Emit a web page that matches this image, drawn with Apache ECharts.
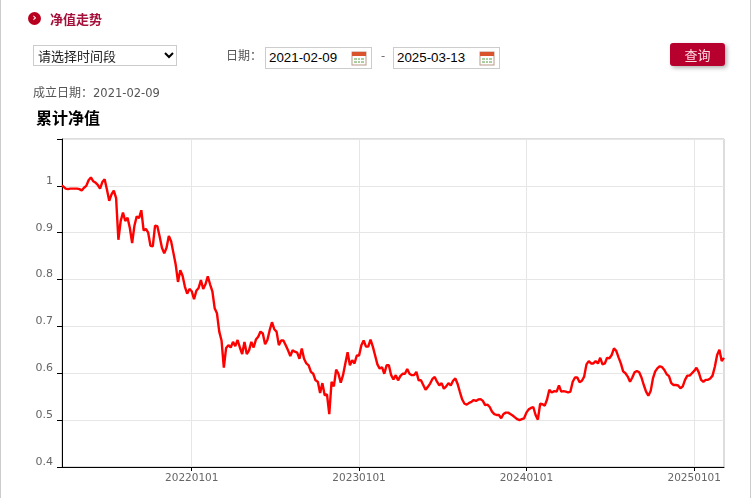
<!DOCTYPE html>
<html>
<head>
<meta charset="utf-8">
<title>净值走势</title>
<script src="https://cdn.jsdelivr.net/npm/echarts@6/dist/echarts.min.js"></script>
<style>
html, body { margin: 0; padding: 0; background: #fff; }
body { width: 753px; height: 498px; overflow: hidden; position: relative; font-family: "Noto Sans CJK SC", sans-serif; }
.frame { position: absolute; left: 0; top: 0; width: 749px; height: 498px; border-left: 1px solid #ccc; border-right: 1px solid #ccc; }
#nav_chart { position: absolute; left: 0; top: 0; width: 753px; height: 498px; }
.abs { position: absolute; white-space: nowrap; }
.head_icon { left: 28px; top: 12px; width: 13px; height: 13px; border-radius: 50%; background: #b8001e; color: #fff; font: bold 10px/12px "DejaVu Sans"; text-align: center; }
.head_text { left: 50px; top: 10px; font-size: 13px; line-height: 18px; font-weight: bold; color: #a5103a; }
.select_box { left: 33px; top: 45px; width: 142px; height: 19px; border: 1px solid #ccc; background: #fff; font-size: 13px; line-height: 19px; color: #222; text-indent: 4px; }
.select_box svg { position: absolute; left: 130px; top: 6px; }
.date_label { left: 226px; top: 46px; font-size: 12px; line-height: 17px; color: #555; }
.date_box { top: 47px; width: 105px; height: 20px; border: 1px solid #ccc; font: 13.33px/19px "Liberation Sans"; color: #000; text-indent: 3px; background: #fff; }
.date_box svg { position: absolute; left: 85px; top: 2px; }
.dash { left: 381px; top: 46px; font-size: 12px; line-height: 17px; color: #555; }
.query { left: 670px; top: 43px; width: 55px; height: 23px; background: #b8002e; border-radius: 3px; box-shadow: 2px 2px 4px rgba(0,0,0,.3); color: #fbdbe2; font-size: 13px; line-height: 23px; text-align: center; }
.found { left: 33px; top: 83px; font-size: 12px; line-height: 17px; color: #555; }
.found span { font: 11.5px/17px "DejaVu Sans"; }
</style>
</head>
<body>
<div class="frame"></div>
<div id="nav_chart"></div>
<div class="abs head_icon">›</div>
<div class="abs head_text">净值走势</div>
<div class="abs select_box">请选择时间段<svg width="10" height="7"><path d="M1 1l4 4 4-4" fill="none" stroke="#000" stroke-width="2"/></svg></div>
<div class="abs date_label">日期&#xff1a;</div>
<div class="abs date_box" style="left:265px">2021-02-09<svg width="16" height="16"><rect x="1" y="2" width="14" height="13" fill="#fff" stroke="#b98"/><rect x="1" y="2" width="14" height="4" fill="#d9532c"/><rect x="3" y="8" width="10" height="5" fill="#a9cfa0"/><path d="M3 10.5h10M6.5 8v5M9.5 8v5" stroke="#fff"/></svg></div>
<div class="abs dash">-</div>
<div class="abs date_box" style="left:393px">2025-03-13<svg width="16" height="16"><rect x="1" y="2" width="14" height="13" fill="#fff" stroke="#b98"/><rect x="1" y="2" width="14" height="4" fill="#d9532c"/><rect x="3" y="8" width="10" height="5" fill="#a9cfa0"/><path d="M3 10.5h10M6.5 8v5M9.5 8v5" stroke="#fff"/></svg></div>
<div class="abs query">查询</div>
<div class="abs found">成立日期&#xff1a;<span>2021-02-09</span></div>
<script>
// sampling days inside one year, the yearly nav lists below line up with these
const monthDays = [
  '01-01','01-06','01-11','01-16','01-21','01-26','01-31',
  '02-05','02-10','02-15','02-20','02-25',
  '03-02','03-07','03-12','03-17','03-22','03-27',
  '04-01','04-06','04-11','04-16','04-21','04-26',
  '05-01','05-06','05-11','05-16','05-21','05-26','05-31',
  '06-05','06-10','06-15','06-20','06-25','06-30',
  '07-05','07-10','07-15','07-20','07-25','07-30',
  '08-04','08-09','08-14','08-19','08-24','08-29',
  '09-03','09-08','09-13','09-18','09-23','09-28',
  '10-03','10-08','10-13','10-18','10-23','10-28',
  '11-02','11-07','11-12','11-17','11-22','11-27',
  '12-02','12-07','12-12','12-17','12-22','12-27'
];
const firstDate = '2021-03-24';
const firstNav = 1.001;
// 2021 starts at 03-27
const nav2021 = [
  .998,.994,.993,.994,.994,.994,.994,.993,.990,.996,1.000,1.012,1.018,1.010,1.007,1.002,.994,1.008,1.014,.992,
  .968,.982,.990,.974,.885,.925,.943,.925,.932,.910,.878,.915,.935,.931,.948,.905,.908,.900,.872,.871,
  .915,.914,.892,.868,.856,.868,.893,.882,.857,.832,.795,.820,.808,.785,.770,.780
];
const nav2022 = [
  .775,.758,.776,.782,.799,.780,.790,.807,.790,.775,.739,.728,.689,.670,.612,.654,.660,.655,.667,.658,
  .671,.655,.641,.667,.641,.649,.667,.655,.672,.678,.689,.685,.662,.671,.692,.709,.694,.689,.660,.670,
  .670,.660,.649,.637,.649,.646,.644,.631,.653,.631,.621,.617,.603,.599,.585,.582,.558,.579,.553,.555,
  .513,.582,.572,.608,.599,.580,.596,.621,.645,.617,.628,.621,.638
];
const nav2023 = [
  .638,.660,.670,.657,.657,.672,.657,.638,.619,.610,.613,.599,.617,.617,.596,.587,.596,.585,.594,.599,
  .599,.609,.599,.596,.596,.603,.585,.585,.575,.565,.571,.578,.588,.592,.582,.574,.579,.567,.572,.579,
  .574,.584,.589,.577,.560,.544,.535,.533,.537,.539,.543,.541,.544,.545,.541,.532,.533,.528,.518,.513,
  .511,.511,.504,.513,.516,.516,.513,.510,.506,.502,.500,.502,.504
];
const nav2024 = [
  .516,.523,.526,.528,.511,.501,.535,.534,.531,.544,.565,.559,.562,.561,.574,.561,.562,.561,.559,.561,
  .582,.591,.591,.581,.584,.593,.619,.626,.621,.621,.626,.621,.633,.619,.621,.633,.632,.639,.653,.648,
  .634,.621,.604,.600,.593,.582,.591,.602,.605,.602,.591,.575,.561,.552,.562,.589,.604,.611,.615,.613,
  .607,.598,.594,.579,.575,.575,.574,.568,.572,.586,.595,.595,.600
];
// 2025 stops at 03-02, last point below
const nav2025 = [.605,.612,.602,.586,.582,.586,.586,.589,.595,.614,.639,.650,.626];
const navEnd = ['2025-03-07', .633];

const yearTicks = ['2022-01-01','2023-01-01','2024-01-01','2025-01-01'];

var series_data = [[Date.parse(firstDate), firstNav]];
function add_year(year, list, offset) {
  list.forEach((v, i) => series_data.push([Date.parse(year + '-' + monthDays[i + offset]), v]));
}
add_year(2021, nav2021, 17);
add_year(2022, nav2022, 0);
add_year(2023, nav2023, 0);
add_year(2024, nav2024, 0);
add_year(2025, nav2025, 0);
series_data.push([Date.parse(navEnd[0]), navEnd[1]]);

var tick_values = yearTicks.map(d => Date.parse(d));

var myChart = echarts.init(document.getElementById('nav_chart'));
var option = {
  animation: false,
  title: {
    text: '累计净值',
    left: 31,
    top: 105,
    textStyle: { color: '#000', fontSize: 16, fontWeight: 'bold', fontFamily: 'Noto Sans CJK SC' }
  },
  grid: { show: true, left: 62, top: 139, right: 29, bottom: 31, borderColor: '#bbb', borderWidth: 1 },
  xAxis: {
    type: 'value',
    min: Date.parse(firstDate),
    max: Date.parse(navEnd[0]),
    axisLine: { lineStyle: { color: '#000', width: 1 } },
    axisTick: { show: true, length: 4, lineStyle: { color: '#000' }, customValues: tick_values },
    axisLabel: {
      customValues: tick_values,
      color: '#666',
      fontSize: 10.5,
      fontFamily: 'DejaVu Sans',
      margin: 6,
      formatter: function (value) {
        return new Date(value).toISOString().slice(0, 10).replace(/-/g, '');
      }
    },
    splitLine: { show: true, lineStyle: { color: '#e6e6e6', width: 1 } }
  },
  yAxis: {
    type: 'value',
    min: 0.4,
    max: 1.1,
    interval: 0.1,
    axisLine: { show: true, lineStyle: { color: '#000', width: 1 } },
    axisTick: { show: true, length: 5, lineStyle: { color: '#000' } },
    axisLabel: {
      color: '#666',
      fontSize: 11,
      fontFamily: 'DejaVu Sans',
      margin: 9,
      verticalAlign: 'bottom',
      lineHeight: 10,
      formatter: function (value) {
        return value >= 1.05 ? '' : String(+value.toFixed(1));
      }
    },
    splitLine: { show: true, lineStyle: { color: '#e6e6e6', width: 1 } }
  },
  series: [
    {
      name: '累计净值',
      type: 'line',
      showSymbol: false,
      symbol: 'none',
      lineStyle: { color: '#f00', width: 2.4 },
      data: series_data
    }
  ]
};
option && myChart.setOption(option);
</script>
</body>
</html>
